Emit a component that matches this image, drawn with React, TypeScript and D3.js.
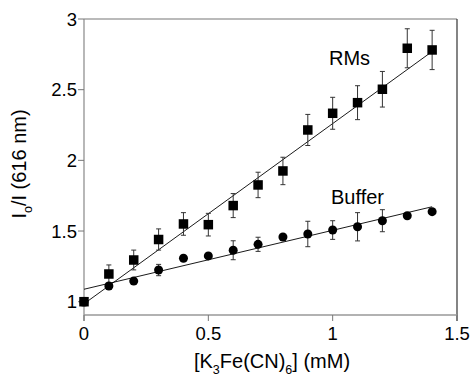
import React from "react";
import * as d3 from "d3";

const xValues = [0, 0.1, 0.2, 0.3, 0.4, 0.5, 0.6, 0.7, 0.8, 0.9, 1.0, 1.1, 1.2, 1.3, 1.4];
const rmsValues = [1.0, 1.196, 1.295, 1.44, 1.55, 1.545, 1.68, 1.826, 1.925, 2.215, 2.333, 2.408, 2.503, 2.793, 2.781];
const rmsErrors = [0.03, 0.064, 0.07, 0.075, 0.08, 0.08, 0.085, 0.09, 0.097, 0.11, 0.113, 0.12, 0.126, 0.138, 0.139];
const bufferValues = [1.0, 1.111, 1.146, 1.224, 1.307, 1.324, 1.364, 1.406, 1.458, 1.479, 1.507, 1.53, 1.573, 1.608, 1.637];
const bufferErrors = [0.0, 0.0, 0.0, 0.04, 0.0, 0.0, 0.067, 0.05, 0.0, 0.09, 0.066, 0.1, 0.078, 0.0, 0.02];
const rmsFit = { intercept: 0.985, slope: 1.275 };
const bufferFit = { intercept: 1.088, slope: 0.417 };
const xTicks = [0, 0.5, 1, 1.5];
const yTicks = [1, 1.5, 2, 2.5, 3];

const W = 472;
const H = 377;
const L = 84, R = 457, T = 19, B = 315;
const FONT = "'Liberation Sans', Arial, Helvetica, sans-serif";

export default function App() {
  const x = d3.scaleLinear().domain([0, 1.5]).range([L, R]);
  const y = d3.scaleLinear().domain([1, 3]).range([301.7, T]);
  const fitX = [0, 1.4];
  const line = d3.line<number[]>().x((d) => x(d[0])).y((d) => y(d[1]));
  const fitLine = (f: { intercept: number; slope: number }) =>
    line(fitX.map((v) => [v, f.intercept + f.slope * v]));
  const fmt = (v: number) => String(v);
  const sq = 9.5;
  const cap = 2.5;

  return (
    <svg width={W} height={H} style={{ position: "absolute", left: 0, top: 0, background: "#fff" }} fontFamily={FONT}>
      <rect x={0} y={0} width={W} height={H} fill="#fff" />
      {/* frame */}
      <line x1={L} y1={T} x2={R} y2={T} stroke="#777" strokeWidth={1.2} />
      <line x1={R} y1={T} x2={R} y2={B + 6} stroke="#333" strokeWidth={1.2} />
      <line x1={L} y1={T} x2={L} y2={B + 6} stroke="#888" strokeWidth={1.2} />
      <line x1={L} y1={B} x2={R} y2={B} stroke="#999" strokeWidth={1.5} />
      {/* y ticks */}
      {yTicks.map((t) => (
        <g key={"y" + t}>
          <line x1={L - 6} x2={L} y1={y(t)} y2={y(t)} stroke="#777" strokeWidth={1} />
          <text x={L - 7} y={y(t)} dy="0.36em" textAnchor="end" fontSize={18.5} fill="#000">
            {fmt(t)}
          </text>
        </g>
      ))}
      {/* x ticks */}
      {xTicks.map((t) => (
        <g key={"x" + t}>
          <line x1={x(t)} x2={x(t)} y1={B} y2={B + 6} stroke="#777" strokeWidth={1} />
          <text x={x(t)} y={340} textAnchor="middle" fontSize={18.5} fill="#000">
            {fmt(t)}
          </text>
        </g>
      ))}
      {/* fit lines */}
      <path d={fitLine(rmsFit) || ""} stroke="#000" strokeWidth={0.9} fill="none" />
      <path d={fitLine(bufferFit) || ""} stroke="#000" strokeWidth={0.9} fill="none" />
      {/* error bars */}
      {xValues.map((xv, i) => (
        <g key={"eb" + i} stroke="#333" strokeWidth={1}>
          {rmsErrors[i] > 0 && (
            <>
              <line x1={x(xv)} x2={x(xv)} y1={y(rmsValues[i] - rmsErrors[i])} y2={y(rmsValues[i] + rmsErrors[i])} />
              <line x1={x(xv) - cap} x2={x(xv) + cap} y1={y(rmsValues[i] + rmsErrors[i])} y2={y(rmsValues[i] + rmsErrors[i])} />
              <line x1={x(xv) - cap} x2={x(xv) + cap} y1={y(rmsValues[i] - rmsErrors[i])} y2={y(rmsValues[i] - rmsErrors[i])} />
            </>
          )}
          {bufferErrors[i] > 0 && (
            <>
              <line x1={x(xv)} x2={x(xv)} y1={y(bufferValues[i] - bufferErrors[i])} y2={y(bufferValues[i] + bufferErrors[i])} />
              <line x1={x(xv) - cap} x2={x(xv) + cap} y1={y(bufferValues[i] + bufferErrors[i])} y2={y(bufferValues[i] + bufferErrors[i])} />
              <line x1={x(xv) - cap} x2={x(xv) + cap} y1={y(bufferValues[i] - bufferErrors[i])} y2={y(bufferValues[i] - bufferErrors[i])} />
            </>
          )}
        </g>
      ))}
      {/* markers */}
      {xValues.map((xv, i) => (
        <circle key={"c" + i} cx={x(xv)} cy={y(bufferValues[i])} r={4.5} fill="#000" />
      ))}
      {xValues.map((xv, i) => (
        <rect key={"s" + i} x={x(xv) - sq / 2} y={y(rmsValues[i]) - sq / 2} width={sq} height={sq} fill="#000" />
      ))}
      {/* series labels */}
      <text x={329} y={65} fontSize={20} fill="#000">RMs</text>
      <text x={331} y={204} fontSize={20} fill="#000">Buffer</text>
      {/* x axis label */}
      <text x={272} y={368} textAnchor="middle" fontSize={20} fill="#000">
        [K<tspan fontSize={12.5} dy={6}>3</tspan>
        <tspan dy={-6}>Fe(CN)</tspan>
        <tspan fontSize={12.5} dy={6}>6</tspan>
        <tspan dy={-6}>] (mM)</tspan>
      </text>
      {/* y axis label */}
      <text transform="translate(26,164) rotate(-90)" textAnchor="middle" fontSize={20} fill="#000">
        I<tspan fontSize={12.5} dy={6}>o</tspan>
        <tspan dy={-6}>/I (616 nm)</tspan>
      </text>
    </svg>
  );
}
